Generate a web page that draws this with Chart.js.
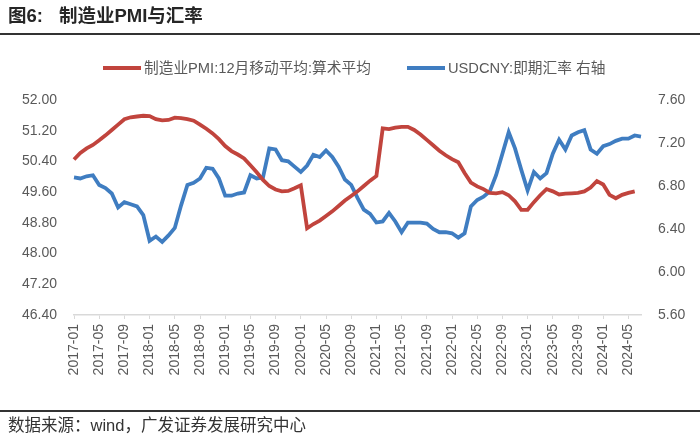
<!DOCTYPE html>
<html>
<head>
<meta charset="utf-8">
<script src="https://cdn.jsdelivr.net/npm/chart.js@4"></script>
<style>
  html, body { margin: 0; padding: 0; background: #fff; }
  #wrap { position: relative; width: 700px; height: 436px; overflow: hidden; font-family: "Liberation Sans", "Noto Sans CJK SC", sans-serif; }
  #title { position: absolute; left: 8px; top: 1px; font-size: 18.5px; font-weight: bold; color: #262626; font-family: "Liberation Sans", "Noto Sans CJK SC", sans-serif; white-space: nowrap; }
  #title .gap { display: inline-block; width: 16px; }
  #topline { position: absolute; left: 0; top: 33px; width: 700px; height: 2px; background: #333; }
  #legend { position: absolute; top: 58px; left: 103px; font-size: 14.7px; color: #595959; white-space: nowrap; height: 18px; line-height: 18px; }
  #legend .item { display: inline-block; vertical-align: middle; }
  #legend .sw { display: inline-block; width: 38px; height: 4px; vertical-align: middle; margin-right: 3px; position: relative; top: -1px; }
  #botline { position: absolute; left: 0; top: 410px; width: 700px; height: 2px; background: #333; }
  #footer { position: absolute; left: 8px; top: 415px; font-size: 16.5px; color: #333; white-space: nowrap; line-height: 20px; }
  canvas { position: absolute; left: 0; top: 0; }
</style>
</head>
<body>
<div id="wrap">
  <canvas id="c" width="700" height="436"></canvas>
  <div id="title">图6:<span class="gap"></span>制造业PMI与汇率</div>
  <div id="topline"></div>
  <div id="legend"></div>
  <div id="botline"></div>
  <div id="footer">数据来源：wind，广发证券发展研究中心</div>
</div>
<script>
// ---- data ----
const months = [];
for (let y = 2017; y <= 2024; y++) {
  for (let m = 1; m <= 12; m++) {
    if (y === 2024 && m > 7) break;
    months.push(y + '-' + String(m).padStart(2, '0'));
  }
}

const seriesNames = ['制造业PMI:12月移动平均:算术平均', 'USDCNY:即期汇率 右轴'];

const pmiAvg12 = [
  50.45, 50.62, 50.74, 50.83, 50.95, 51.08, 51.22, 51.36, 51.50, 51.55, 51.57, 51.59,
  51.58, 51.50, 51.47, 51.48, 51.54, 51.53, 51.50, 51.46, 51.36, 51.25, 51.13, 50.98,
  50.80, 50.67, 50.58, 50.48, 50.30, 50.12, 49.92, 49.76, 49.67, 49.62, 49.63, 49.70,
  49.78, 48.66, 48.77, 48.86, 48.98, 49.10, 49.24, 49.38, 49.50, 49.62, 49.76, 49.90,
  50.02, 51.26, 51.24, 51.28, 51.30, 51.30, 51.22, 51.10, 50.96, 50.82, 50.68, 50.56,
  50.46, 50.38, 50.10, 49.85, 49.75, 49.68, 49.58, 49.57, 49.60, 49.52, 49.36, 49.14,
  49.14, 49.34, 49.52, 49.68, 49.62, 49.54, 49.56, 49.57, 49.58, 49.62, 49.72, 49.89,
  49.80, 49.53, 49.44, 49.53, 49.58, 49.62, null
];

const usdcny = [
  6.88, 6.87, 6.89, 6.90, 6.81, 6.78, 6.73, 6.60, 6.65, 6.63, 6.61, 6.53,
  6.29, 6.33, 6.28, 6.34, 6.41, 6.62, 6.81, 6.83, 6.87, 6.97, 6.96, 6.87,
  6.71, 6.71, 6.73, 6.74, 6.90, 6.87, 6.88, 7.15, 7.14, 7.04, 7.03, 6.98,
  6.93, 6.99, 7.09, 7.07, 7.13, 7.07, 6.98, 6.86, 6.81, 6.69, 6.58, 6.54,
  6.46, 6.47, 6.55, 6.47, 6.37, 6.46, 6.46, 6.46, 6.45, 6.40, 6.37, 6.37,
  6.36, 6.32, 6.36, 6.61, 6.67, 6.70, 6.75, 6.90, 7.10, 7.30, 7.15, 6.95,
  6.76, 6.93, 6.87, 6.92, 7.10, 7.23, 7.14, 7.27, 7.30, 7.32, 7.14, 7.10,
  7.17, 7.19, 7.22, 7.24, 7.24, 7.27, 7.26
];

const leftTicks = [46.4, 47.2, 48.0, 48.8, 49.6, 50.4, 51.2, 52.0];
const rightTicks = [5.6, 6.0, 6.4, 6.8, 7.2, 7.6];

const colors = ['#C1443D', '#3F7DC1'];

// ---- legend (HTML) ----
const lg = document.getElementById('legend');
seriesNames.forEach((n, i) => {
  const it = document.createElement('span');
  it.className = 'item';
  if (i > 0) it.style.marginLeft = '36px';
  it.innerHTML = '<span class="sw" style="background:' + colors[i] + '"></span>' + n;
  lg.appendChild(it);
});

const tickFont = { family: '"Liberation Sans", Arial, sans-serif', size: 14 };

new Chart(document.getElementById('c'), {
  type: 'line',
  data: {
    labels: months,
    datasets: [
      { label: seriesNames[0], data: pmiAvg12, yAxisID: 'y', borderColor: colors[0], backgroundColor: colors[0],
        borderWidth: 3.8, pointRadius: 0, tension: 0, spanGaps: false },
      { label: seriesNames[1], data: usdcny, yAxisID: 'y2', borderColor: colors[1], backgroundColor: colors[1],
        borderWidth: 3.8, pointRadius: 0, tension: 0 }
    ]
  },
  options: {
    responsive: false,
    animation: false,
    layout: { padding: { top: 100, bottom: 0, left: 0, right: 0 } },
    plugins: { legend: { display: false }, tooltip: { enabled: false } },
    scales: {
      x: {
        type: 'category',
        grid: { display: true, drawOnChartArea: false, drawTicks: true, tickLength: 4, color: '#D9D9D9' },
        border: { display: true, color: '#D9D9D9', width: 1.5 },
        ticks: {
          autoSkip: false, maxRotation: 90, minRotation: 90, padding: 5,
          color: '#595959', font: tickFont,
          callback: function(v, i) { return i % 4 === 0 ? months[i] : null; }
        },
        afterFit: function(s) { s.height = 121; }
      },
      y: {
        position: 'left', min: 46.4, max: 52.0,
        grid: { display: false, drawTicks: false },
        border: { display: false },
        afterBuildTicks: function(s) { s.ticks = leftTicks.map(v => ({ value: v })); },
        ticks: { padding: 17, color: '#595959', font: tickFont, callback: v => Number(v).toFixed(2) },
        afterFit: function(s) { s.width = 74; }
      },
      y2: {
        position: 'right', min: 5.6, max: 7.6,
        grid: { display: false, drawTicks: false },
        border: { display: false },
        afterBuildTicks: function(s) { s.ticks = rightTicks.map(v => ({ value: v })); },
        ticks: { padding: 17, color: '#595959', font: tickFont, callback: v => Number(v).toFixed(2) },
        afterFit: function(s) { s.width = 59; }
      }
    }
  }
});
</script>
</body>
</html>
